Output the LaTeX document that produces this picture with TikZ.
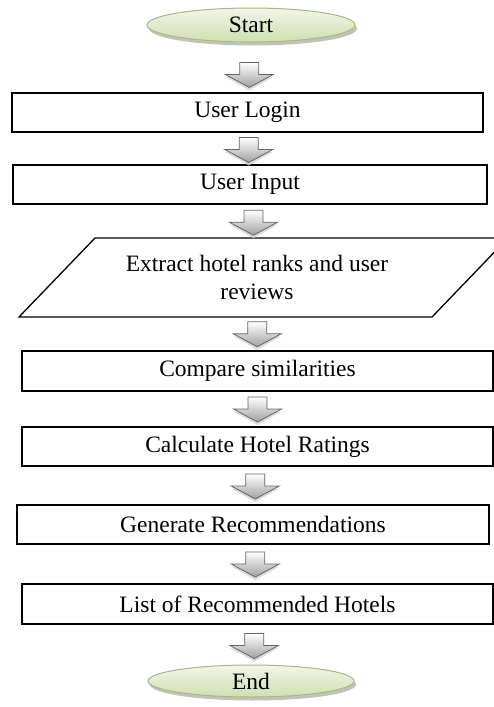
\documentclass[tikz,border=0pt]{standalone}
\usepackage{fontspec}
\setmainfont{Liberation Serif}
\usetikzlibrary{calc,shadows,shapes.geometric}
\definecolor{eltop}{RGB}{242,246,232}
\definecolor{elbot}{RGB}{208,223,176}
\definecolor{eldraw}{RGB}{165,186,125}
\tikzset{
  txt/.style={font=\fontsize{23.5}{28}\selectfont},
  box/.style={txt, draw=black, line width=1.3pt, fill=white, inner sep=0pt,
    minimum height=39pt,
    drop shadow={shadow xshift=1.3pt, shadow yshift=-1.3pt, fill=gray!55, opacity=1}},
  term/.style={txt, ellipse, draw=eldraw, line width=1pt, top color=eltop, bottom color=elbot,
    inner sep=0pt,
    drop shadow={shadow xshift=2pt, shadow yshift=-3.5pt, fill=gray!60, opacity=0.8}},
  darrow/.pic={
    \fill[gray!35, opacity=0.8] (-9.5,-10) -- (9.5,-10) -- (9.5,2) -- (24,2) -- (0,15.5) -- (-24,2) -- (-9.5,2) -- cycle;
    \shade[top color=white, bottom color=gray!75, draw=gray!80!black, line width=0.8pt]
      (-9.5,-12.5) -- (9.5,-12.5) -- (9.5,-0.5) -- (24,-0.5) -- (0,12.5) -- (-24,-0.5) -- (-9.5,-0.5) -- cycle;
  }
}
\begin{document}
\begin{tikzpicture}[x=1pt,y=-1pt]
\path[clip] (0,0) rectangle (494,707);
\useasboundingbox (0,0) rectangle (494,707);

\node[term, minimum width=208pt, minimum height=34pt] (start) at (251,25) {Start};
\node[box, minimum width=471pt] (login) at (247.5,112.5) {User Login};
\node[box, minimum width=474pt] (input) at (250,184.5) {User Input};

% parallelogram (extends beyond the right border, clipped)
\draw[line width=1.3pt, fill=white] (95,238) -- (508,238) -- (432,317) -- (19,317) -- cycle;
\node[txt, align=center, minimum height=79pt, inner sep=0pt] (extract) at (257,277.5)
  {Extract hotel ranks and user\\reviews};

\node[box, minimum width=471pt, minimum height=40pt] (compare) at (257.5,371) {Compare similarities};
\node[box, minimum width=471pt] (calc) at (257.5,446.5) {Calculate Hotel Ratings};
\node[box, minimum width=472pt] (gen) at (253,524.5) {Generate Recommendations};
\node[box, minimum width=471pt, minimum height=40pt] (list) at (257.5,604) {List of Recommended Hotels};
\node[term, minimum width=206pt, minimum height=32pt] (end) at (251,681) {End};

\pic at ($(start.south)!0.5!(login.north)+(0,7.5)$) {darrow};
\pic at ($(login.south)!0.5!(input.north)+(0,1.5)$) {darrow};
\pic at ($(input.south)!0.5!(extract.north)+(0,1.5)$) {darrow};
\pic at ($(extract.south)!0.5!(compare.north)+(0,0.5)$) {darrow};
\pic at ($(compare.south)!0.5!(calc.north)+(0,0.5)$) {darrow};
\pic at ($(calc.south)!0.5!(gen.north)+(0,1)$) {darrow};
\pic at ($(gen.south)!0.5!(list.north)+(0,0.5)$) {darrow};
\pic at ($(list.south)!0.5!(end.north)+(0,1.5)$) {darrow};
\end{tikzpicture}
\end{document}
